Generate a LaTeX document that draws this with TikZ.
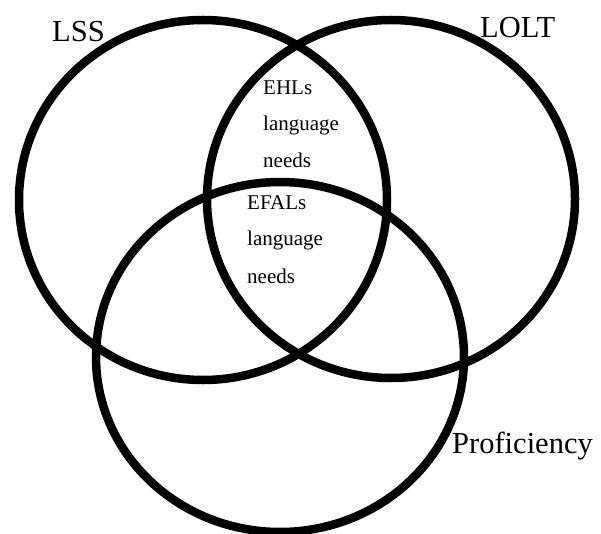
\documentclass[tikz,border=0pt]{standalone}
\usepackage{fontspec}
\setmainfont{Liberation Serif}
\usepackage{tikz}
\tikzset{set/.style={line width=8.5pt,draw=black},
  setlabel/.style={inner sep=0pt,anchor=base west,font=\fontsize{30.5}{36}\selectfont},
  needlabel/.style={inner sep=0pt,anchor=base west,font=\fontsize{21}{25}\selectfont}}

\begin{document}
\begin{tikzpicture}[x=1pt,y=-1pt]
  \useasboundingbox (0,0) rectangle (601,534);

  \coordinate (lss) at (203,200);
  \coordinate (lolt) at (391,199);
  \coordinate (prof) at (280,357);

  \draw[set] (lss) ellipse [x radius=184, y radius=180];
  \draw[set] (lolt) ellipse [x radius=184, y radius=179];
  \draw[set] (prof) ellipse [x radius=184, y radius=175];

  \node[setlabel] (lsslabel) at (52,42) {LSS};
  \node[setlabel] (loltlabel) at (480,38) {LOLT};
  \node[setlabel] (proflabel) at (452,453) {Proficiency};

  \node[needlabel] (ehl) at (263,95) {EHLs};
  \node[needlabel] (ehllang) at (263,131) {language};
  \node[needlabel] (ehlneeds) at (263,168) {needs};

  \node[needlabel] (efal) at (247,210) {EFALs};
  \node[needlabel] (efallang) at (247,246) {language};
  \node[needlabel] (efalneeds) at (247,283) {needs};
\end{tikzpicture}
\end{document}
